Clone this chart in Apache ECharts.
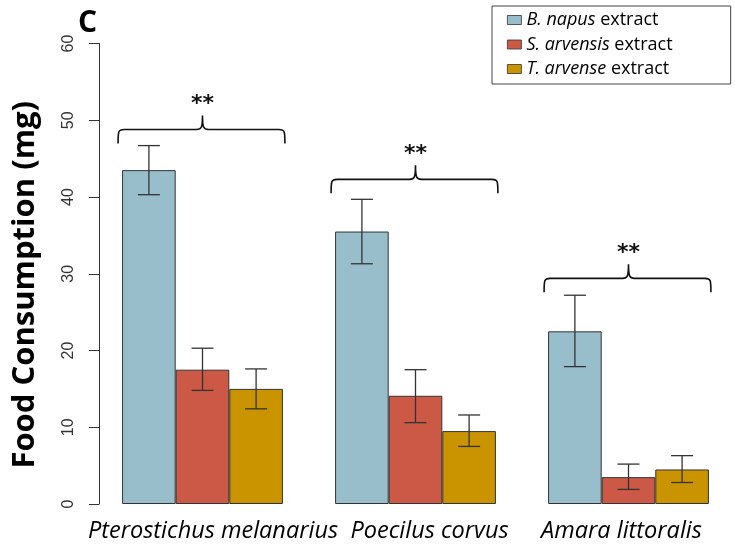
<!DOCTYPE html>
<html>
<head>
<meta charset="utf-8">
<script src="https://cdn.jsdelivr.net/npm/echarts@6/dist/echarts.min.js"></script>
<style>html,body{margin:0;padding:0;background:#fff}#c{width:735px;height:550px}</style>
</head>
<body>
<div id="c"></div>
<script>
// ---- data ----
const categories = ['Pterostichus melanarius', 'Poecilus corvus', 'Amara littoralis'];
const seriesNames = ['B. napus extract', 'S. arvensis extract', 'T. arvense extract'];
const napusMean = [43.5, 35.5, 22.5];
const napusLow  = [40.3, 31.3, 17.9];
const napusHigh = [46.7, 39.7, 27.2];
const sinapisMean = [17.5, 14.1, 3.5];
const sinapisLow  = [14.8, 10.6, 1.9];
const sinapisHigh = [20.3, 17.5, 5.2];
const thlaspiMean = [15.0, 9.5, 4.5];
const thlaspiLow  = [12.4, 7.5, 2.8];
const thlaspiHigh = [17.6, 11.6, 6.3];
const bracketLevel = [48.8, 42.3, 29.4];
const bracketMark = ['**', '**', '**'];
const yTicks = [0, 10, 20, 30, 40, 50, 60];

const colors = ['#99BECB', '#CC5946', '#C99400'];
const GAP = 0.245;
const means = [napusMean, sinapisMean, thlaspiMean];
const lows = [napusLow, sinapisLow, thlaspiLow];
const highs = [napusHigh, sinapisHigh, thlaspiHigh];
const italicPart = {'B. napus extract':'B. napus', 'S. arvensis extract':'S. arvensis', 'T. arvense extract':'T. arvense'};

function errRender(k) {
  return function (params, api) {
    const ci = api.value(0);
    const lo = api.coord([ci, api.value(1)]);
    const hi = api.coord([ci, api.value(2)]);
    const band = api.size([1, 0])[0];
    const bw = band * (1 - GAP) / 3;
    const x = lo[0] + (k - 1) * bw;
    const cap = 11;
    const st = {stroke: '#333', lineWidth: 1.3};
    return {type: 'group', children: [
      {type: 'line', shape: {x1: x, y1: lo[1], x2: x, y2: hi[1]}, style: st},
      {type: 'line', shape: {x1: x - cap, y1: lo[1], x2: x + cap, y2: lo[1]}, style: st},
      {type: 'line', shape: {x1: x - cap, y1: hi[1], x2: x + cap, y2: hi[1]}, style: st}
    ]};
  };
}

function bracketRender(params, api) {
  const ci = api.value(0);
  const p = api.coord([ci, api.value(1)]);
  const band = api.size([1, 0])[0];
  const gw = band * (1 - GAP);
  const x1 = p[0] - gw / 2 - 4, x2 = p[0] + gw / 2 + 2, xc = p[0], y = p[1];
  const d = 14, r = 6;
  const path = 'M' + x1 + ',' + (y + d) +
    ' C' + x1 + ',' + (y + 2) + ' ' + x1 + ',' + y + ' ' + (x1 + r) + ',' + y +
    ' L' + (xc - r) + ',' + y +
    ' C' + (xc - 1) + ',' + y + ' ' + xc + ',' + (y - 2) + ' ' + xc + ',' + (y - d) +
    ' C' + xc + ',' + (y - 2) + ' ' + (xc + 1) + ',' + y + ' ' + (xc + r) + ',' + y +
    ' L' + (x2 - r) + ',' + y +
    ' C' + x2 + ',' + y + ' ' + x2 + ',' + (y + 2) + ' ' + x2 + ',' + (y + d);
  return {type: 'group', children: [
    {type: 'path', shape: {pathData: path}, style: {stroke: '#111', lineWidth: 1.6, fill: null}},
    {type: 'text', x: xc, y: y - 25, style: {text: bracketMark[params.dataIndex], fill: '#111',
      font: 'bold 22px "DejaVu Sans"', align: 'center', verticalAlign: 'middle'}}
  ]};
}

const series = [];
for (let k = 0; k < 3; k++) {
  series.push({
    name: seriesNames[k], type: 'bar', data: means[k],
    barGap: '0%', barCategoryGap: (GAP * 100) + '%',
    itemStyle: {color: colors[k], borderColor: '#333', borderWidth: 1},
    z: 2
  });
}
for (let k = 0; k < 3; k++) {
  series.push({
    type: 'custom', renderItem: errRender(k), z: 5,
    data: categories.map((c, i) => [i, lows[k][i], highs[k][i]])
  });
}
series.push({
  type: 'custom', renderItem: bracketRender, z: 5,
  data: categories.map((c, i) => [i, bracketLevel[i]])
});

const xl = {fontFamily: 'Open Sans', fontStyle: 'italic', fontSize: 23.5, color: '#000'};
const chart = echarts.init(document.getElementById('c'), null, {renderer: 'canvas'});
chart.setOption({
  animation: false,
  backgroundColor: '#fff',
  title: {text: 'C', left: 78, top: 8, padding: 0,
    textStyle: {fontFamily: 'Open Sans', fontWeight: 'bold', fontSize: 30, color: '#000'}},
  legend: {
    data: seriesNames, orient: 'vertical', left: 492, top: 6,
    padding: [5, 58, 6, 15], itemGap: 6.5, itemWidth: 14, itemHeight: 9,
    borderColor: '#444', borderWidth: 1, icon: 'rect',
    itemStyle: {borderWidth: 0.8},
    formatter: function (name) { return '{i|' + italicPart[name] + '}' + name.slice(italicPart[name].length); },
    textStyle: {fontFamily: 'Open Sans', fontSize: 18, color: '#000',
      rich: {i: {fontFamily: 'Open Sans', fontStyle: 'italic', fontSize: 18, color: '#000'}}}
  },
  grid: {left: 96, right: 0, top: 43.5, bottom: 46},
  xAxis: {
    type: 'category', data: categories,
    axisLine: {show: false}, axisTick: {show: false},
    axisLabel: {
      margin: 16, interval: 0,
      formatter: function (v, i) { return '{s' + i + '|' + v + '}'; },
      rich: {
        s0: Object.assign({padding: [0, 0, 0, 21]}, xl),
        s1: Object.assign({padding: [0, 0, 0, 28]}, xl),
        s2: Object.assign({padding: [0, 14, 0, 0]}, xl)
      }
    }
  },
  yAxis: {
    type: 'value', min: yTicks[0], max: yTicks[yTicks.length - 1], interval: yTicks[1] - yTicks[0],
    offset: -3,
    name: 'Food Consumption (mg)', nameLocation: 'middle', nameRotate: 90, nameGap: 58,
    nameTextStyle: {fontFamily: 'Open Sans', fontWeight: 'bold', fontSize: 31, color: '#000', padding: [0, 22, 0, 0]},
    axisLine: {show: true, lineStyle: {color: '#333', width: 1}},
    axisTick: {show: true, length: 10, lineStyle: {color: '#333'}},
    splitLine: {show: false},
    axisLabel: {rotate: 90, margin: 22, fontFamily: 'Liberation Sans', fontSize: 16, color: '#333'}
  },
  series: series
});
</script>
</body>
</html>
